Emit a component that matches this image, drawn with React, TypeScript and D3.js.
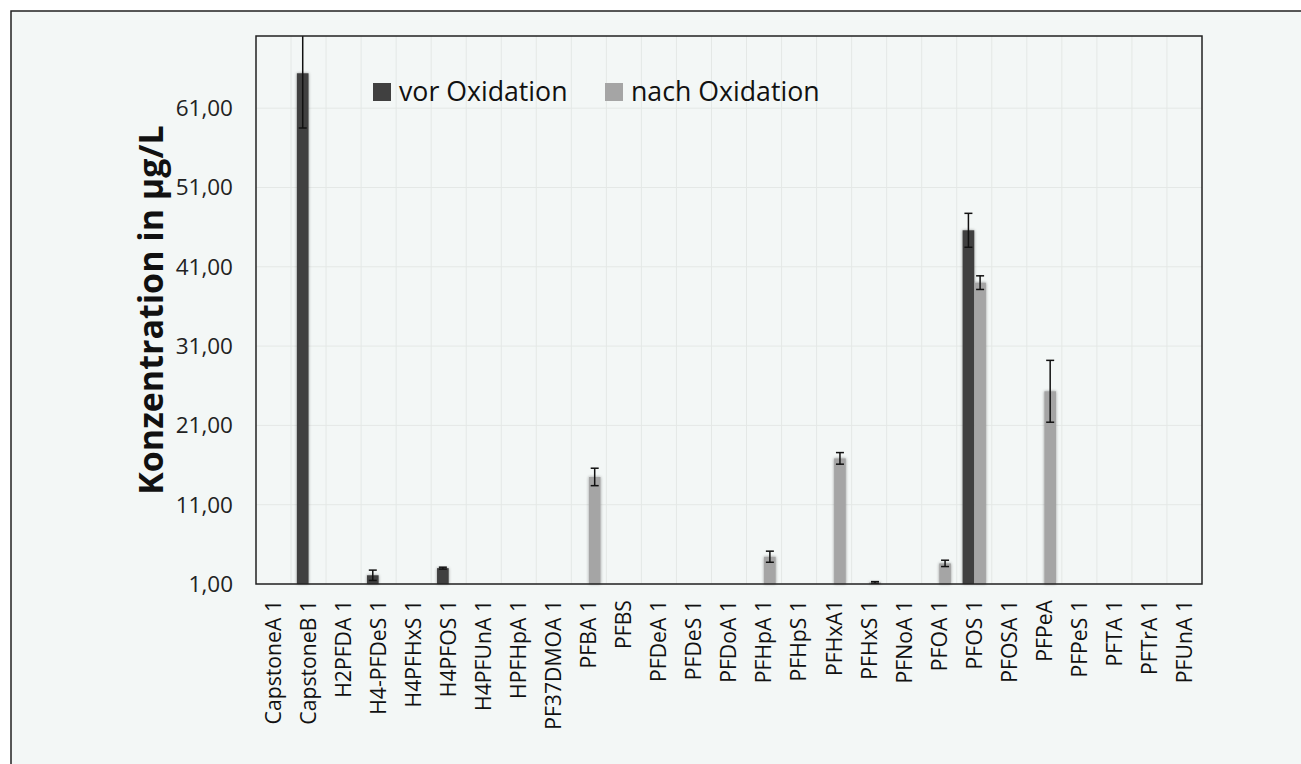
import React from "react";
import * as d3 from "d3";

const categories = [
  "CapstoneA 1", "CapstoneB 1", "H2PFDA 1", "H4-PFDeS 1", "H4PFHxS 1", "H4PFOS 1",
  "H4PFUnA 1", "HPFHpA 1", "PF37DMOA 1", "PFBA 1", "PFBS", "PFDeA 1", "PFDeS 1",
  "PFDoA 1", "PFHpA 1", "PFHpS 1", "PFHxA1", "PFHxS 1", "PFNoA 1", "PFOA 1",
  "PFOS 1", "PFOSA 1", "PFPeA", "PFPeS 1", "PFTA 1", "PFTrA 1", "PFUnA 1",
];

const vorValues = [0, 65.4, 0, 2.1, 0, 3.0, 0, 0, 0, 0, 0, 0, 0, 0, 0, 0, 0, 0, 0, 0, 45.6, 0, 0, 0, 0, 0, 0];
const vorErrors = [0, 6.9, 0, 0.65, 0, 0.12, 0, 0, 0, 0, 0, 0, 0, 0, 0, 0, 0, 0, 0, 0, 2.14, 0, 0, 0, 0, 0, 0];
const nachValues = [0, 0, 0, 0, 0, 0, 0, 0, 0, 14.5, 0, 0, 0, 0, 4.44, 0, 16.84, 1.2, 0, 3.6, 39.0, 0, 25.3, 0, 0, 0, 0];
const nachErrors = [0, 0, 0, 0, 0, 0, 0, 0, 0, 1.1, 0, 0, 0, 0, 0.7, 0, 0.73, 0.1, 0, 0.4, 0.86, 0, 3.9, 0, 0, 0, 0];

const yTicks = [1, 11, 21, 31, 41, 51, 61];
const seriesNames = ["vor Oxidation", "nach Oxidation"];
const seriesColors = ["#404040", "#a5a5a5"];

const FONT = "'Open Sans', 'Noto Sans', sans-serif";

export default function App() {
  const W = 1301, H = 764;
  const left = 256, right = 1202, top = 36, bottom = 584;

  const x = d3.scaleBand<string>().domain(categories).range([left, right]).paddingInner(0).paddingOuter(0);
  const y = d3.scaleLinear().domain([1, 70.1]).range([bottom, top]);
  const bw = x.bandwidth();
  const inner = d3.scaleBand<number>().domain([0, 1]).range([bw / 6, bw - bw / 6]);

  const series = [
    { values: vorValues, errors: vorErrors },
    { values: nachValues, errors: nachErrors },
  ];

  const fmt = (v: number) => d3.format(".2f")(v).replace(".", ",");

  return (
    <svg width={W} height={H} style={{ position: "absolute", left: 0, top: 0 }} fontFamily={FONT}>
      <defs>
        <filter id="shadow" x="-50%" y="-10%" width="200%" height="120%">
          <feDropShadow dx="0" dy="0" stdDeviation="1.8" floodColor="#000" floodOpacity="0.4" />
        </filter>
        <clipPath id="plotClip">
          <rect x={left} y={top} width={right - left} height={bottom - top} />
        </clipPath>
      </defs>
      <rect x={0} y={0} width={W} height={H} fill="#ffffff" />
      <rect x={11} y={11} width={W + 20} height={H + 20} fill="#f3f7f6" stroke="#222" strokeWidth={1.5} />

      {/* gridlines */}
      <g stroke="#e4e8e6" strokeWidth={1}>
        {yTicks.map((t) => (
          <line key={"h" + t} x1={left} x2={right} y1={y(t)} y2={y(t)} />
        ))}
        {categories.map((c, i) => (i > 0 ? <line key={"v" + c} x1={x(c)!} x2={x(c)!} y1={top} y2={bottom} /> : null))}
      </g>

      {/* bars */}
      <g filter="url(#shadow)">
        {series.map((s, si) =>
          s.values.map((v, i) =>
            v > 1 ? (
              <rect
                key={si + "-" + i}
                x={x(categories[i])! + inner(si)!}
                y={y(v)}
                width={inner.bandwidth()}
                height={y(1) - y(v)}
                fill={seriesColors[si]}
              />
            ) : null
          )
        )}
      </g>

      {/* error bars */}
      <g clipPath="url(#plotClip)" stroke="#111" strokeWidth={1.5}>
        {series.map((s, si) =>
          s.values.map((v, i) => {
            if (v <= 1) return null;
            const e = s.errors[i];
            const cx = x(categories[i])! + inner(si)! + inner.bandwidth() / 2;
            const y1 = y(v + e), y2 = y(v - e);
            return (
              <g key={"e" + si + "-" + i}>
                <line x1={cx} x2={cx} y1={y1} y2={y2} />
                <line x1={cx - 4} x2={cx + 4} y1={y1} y2={y1} />
                <line x1={cx - 4} x2={cx + 4} y1={y2} y2={y2} />
              </g>
            );
          })
        )}
      </g>

      {/* plot border */}
      <rect x={left} y={top} width={right - left} height={bottom - top} fill="none" stroke="#222" strokeWidth={1.5} />

      {/* y tick labels */}
      {yTicks.map((t) => (
        <text key={"yt" + t} x={233} y={y(t)} dy="0.35em" textAnchor="end" fontSize={22.5} fill="#222">
          {fmt(t)}
        </text>
      ))}

      {/* x labels */}
      {categories.map((c) => {
        const cx = x(c)! + bw / 2;
        return (
          <text
            key={"xl" + c}
            transform={`translate(${cx},${600}) rotate(-90)`}
            textAnchor="end"
            dy="0.35em"
            fontSize={21.2}
            fill="#111"
          >
            {c}
          </text>
        );
      })}

      {/* y title */}
      <text
        transform={`translate(151,310) rotate(-90)`}
        textAnchor="middle"
        dy="0.35em"
        fontSize={34}
        fontWeight="bold"
        fill="#111"
      >
        Konzentration in µg/L
      </text>

      {/* legend */}
      {seriesNames.map((n, i) => {
        const lx = [373, 605][i];
        return (
          <g key={"lg" + n}>
            <rect x={lx} y={83} width={18} height={18} fill={seriesColors[i]} />
            <text x={lx + 26} y={101} fontSize={26.7} fill="#111">
              {n}
            </text>
          </g>
        );
      })}
    </svg>
  );
}
